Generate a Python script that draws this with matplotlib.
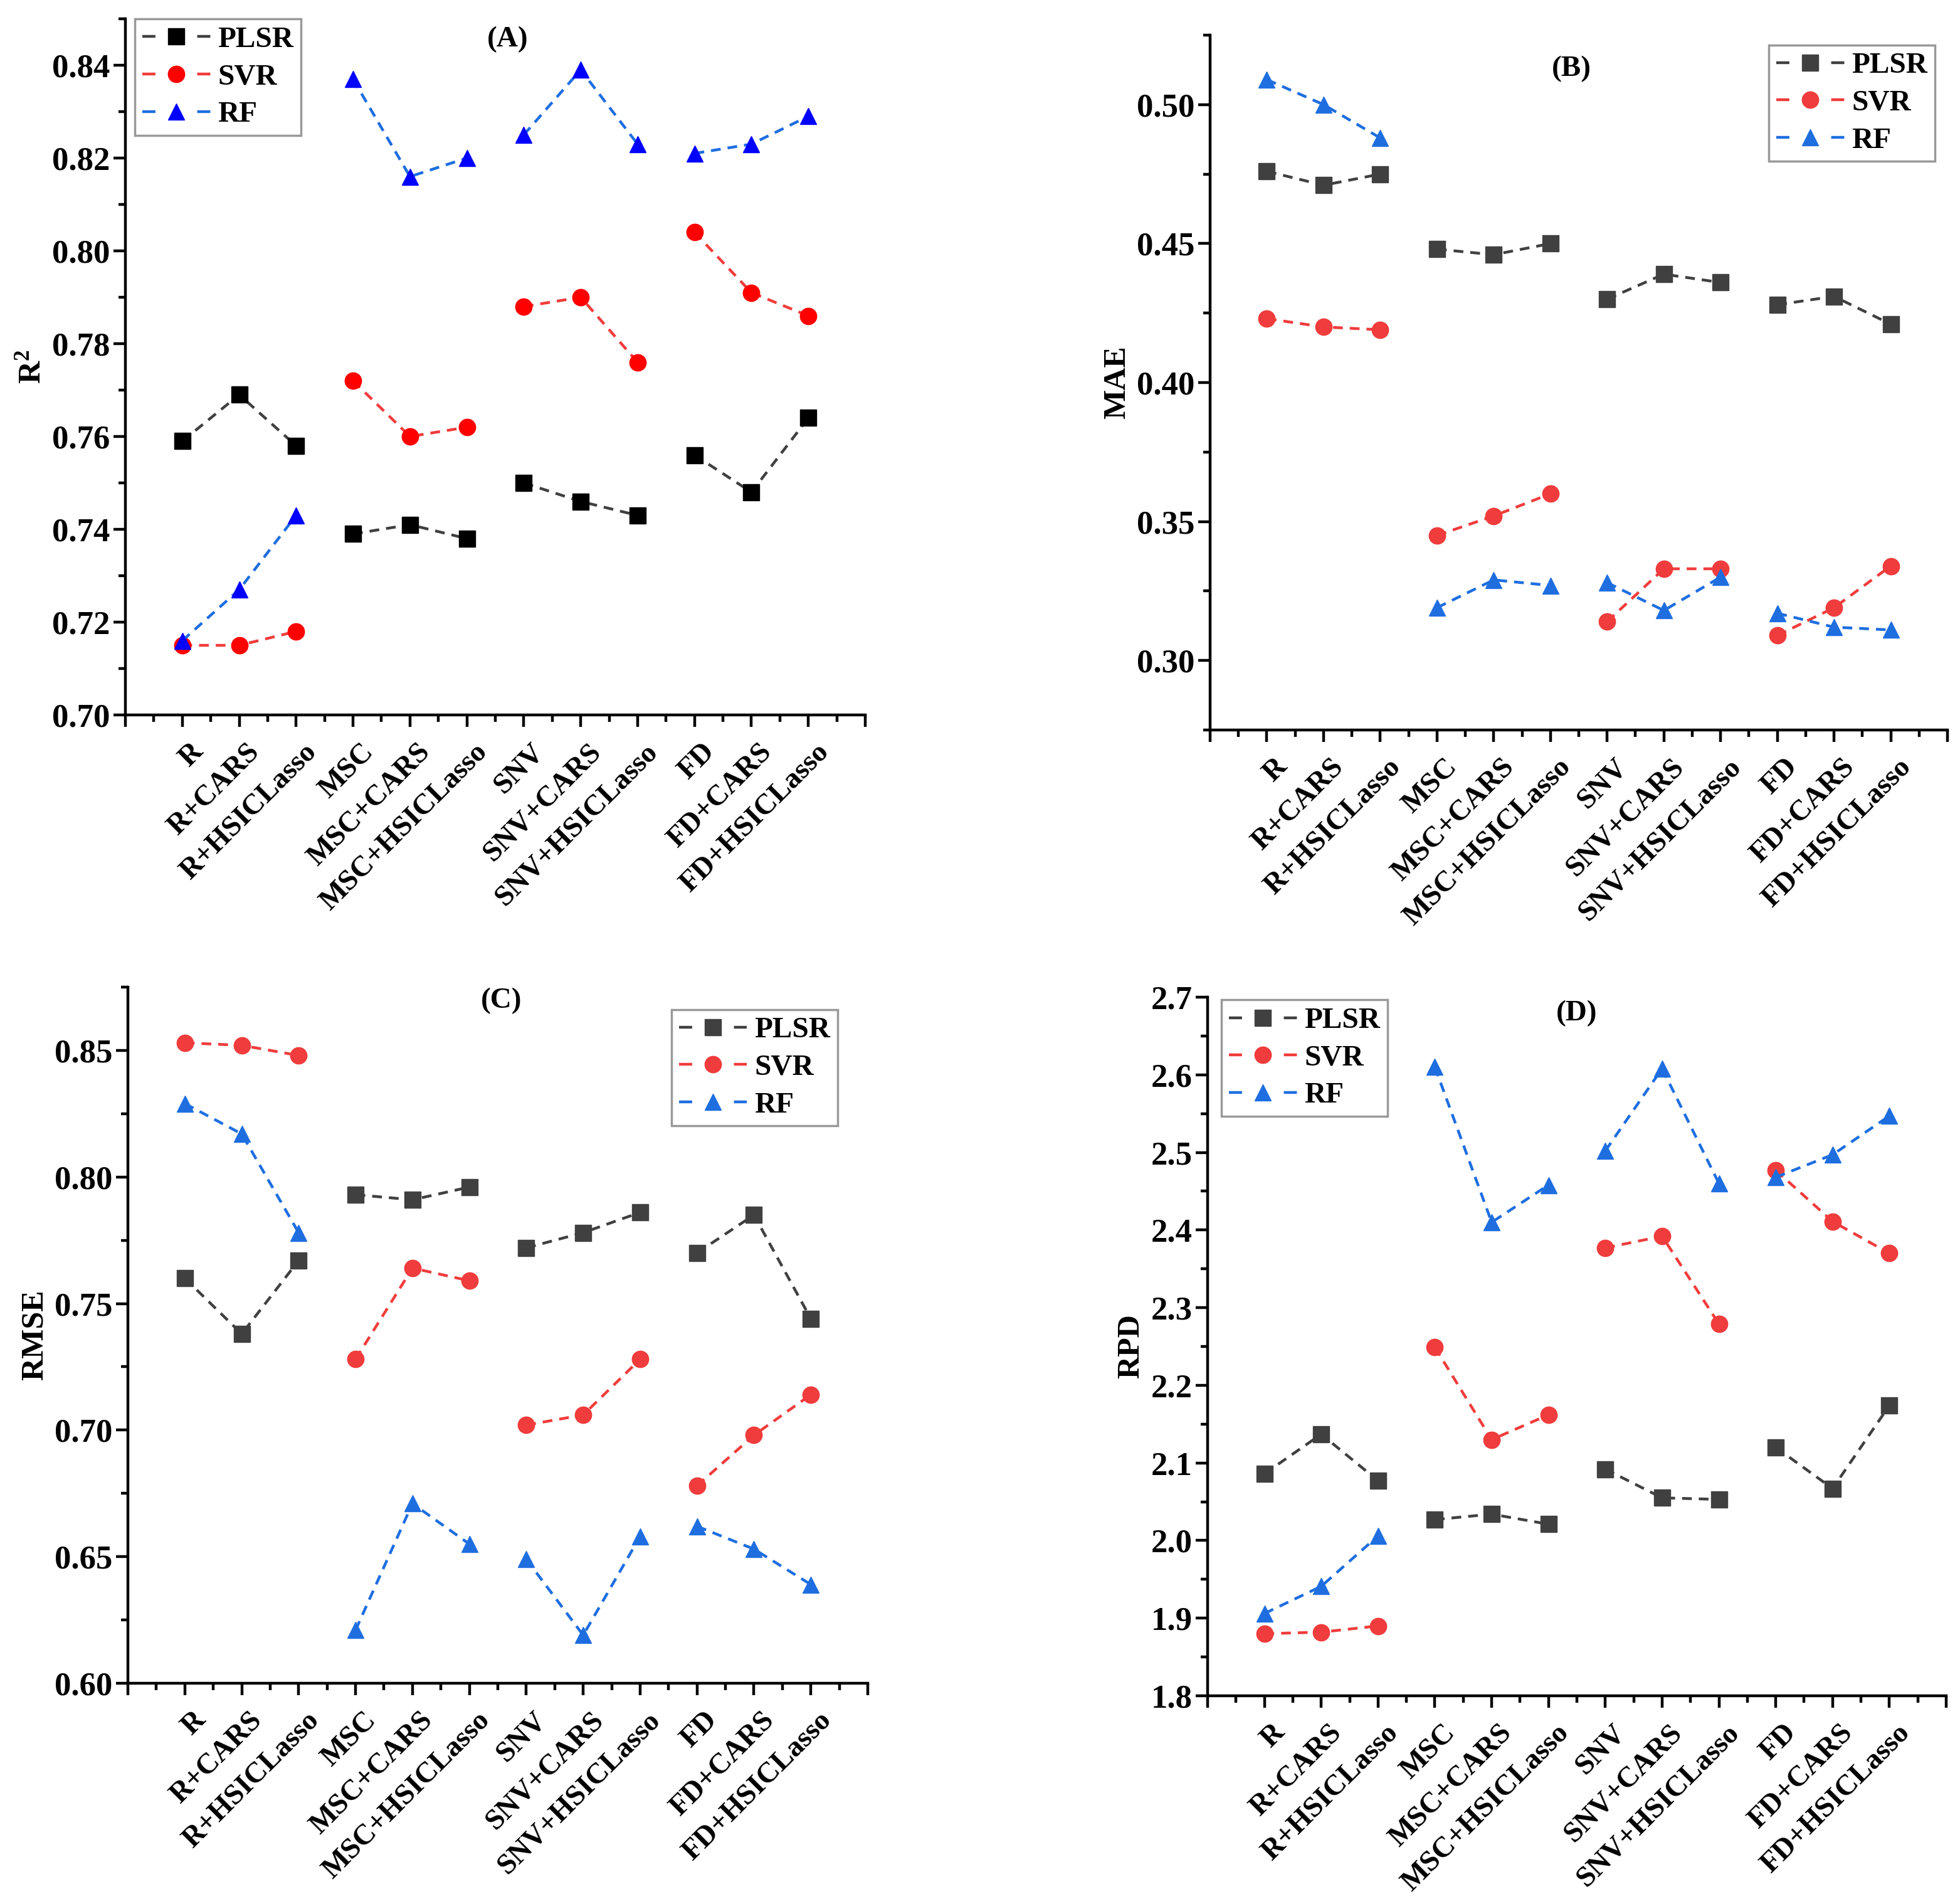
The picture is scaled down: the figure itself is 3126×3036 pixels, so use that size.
"""
Four-panel comparison of PLSR / SVR / RF across preprocessing + feature
selection combinations: R2, MAE, RMSE and RPD.
"""

import numpy as np
import matplotlib
matplotlib.use("Agg")
import matplotlib.pyplot as plt
from matplotlib.lines import Line2D
from matplotlib.transforms import ScaledTranslation
from matplotlib.ticker import MultipleLocator, FixedLocator, FormatStrFormatter

plt.rcParams["font.family"] = ["Liberation Serif", "DejaVu Serif"]
plt.rcParams["font.weight"] = "bold"
plt.rcParams["mathtext.fontset"] = "custom"
plt.rcParams["mathtext.rm"] = "Liberation Serif:bold"

categories = ["R", "R+CARS", "R+HSICLasso",
              "MSC", "MSC+CARS", "MSC+HSICLasso",
              "SNV", "SNV+CARS", "SNV+HSICLasso",
              "FD", "FD+CARS", "FD+HSICLasso"]
models = ["PLSR", "SVR", "RF"]

r2_plsr = [0.759, 0.769, 0.758, 0.739, 0.741, 0.738, 0.750, 0.746, 0.743, 0.756, 0.748, 0.764]
r2_svr  = [0.715, 0.715, 0.718, 0.772, 0.760, 0.762, 0.788, 0.790, 0.776, 0.804, 0.791, 0.786]
r2_rf   = [0.716, 0.727, 0.743, 0.837, 0.816, 0.820, 0.825, 0.839, 0.823, 0.821, 0.823, 0.829]

mae_plsr = [0.476, 0.471, 0.475, 0.448, 0.446, 0.450, 0.430, 0.439, 0.436, 0.428, 0.431, 0.421]
mae_svr  = [0.423, 0.420, 0.419, 0.345, 0.352, 0.360, 0.314, 0.333, 0.333, 0.309, 0.319, 0.334]
mae_rf   = [0.509, 0.500, 0.488, 0.319, 0.329, 0.327, 0.328, 0.318, 0.330, 0.317, 0.312, 0.311]

rmse_plsr = [0.760, 0.738, 0.767, 0.793, 0.791, 0.796, 0.772, 0.778, 0.786, 0.770, 0.785, 0.744]
rmse_svr  = [0.853, 0.852, 0.848, 0.728, 0.764, 0.759, 0.702, 0.706, 0.728, 0.678, 0.698, 0.714]
rmse_rf   = [0.829, 0.817, 0.778, 0.621, 0.671, 0.655, 0.649, 0.619, 0.658, 0.662, 0.653, 0.639]

rpd_plsr = [2.086, 2.137, 2.077, 2.027, 2.034, 2.021, 2.092, 2.055, 2.053, 2.120, 2.067, 2.174]
rpd_svr  = [1.880, 1.882, 1.890, 2.249, 2.130, 2.162, 2.377, 2.392, 2.279, 2.477, 2.411, 2.370]
rpd_rf   = [1.906, 1.941, 2.006, 2.610, 2.410, 2.458, 2.502, 2.608, 2.460, 2.468, 2.497, 2.547]

_LINE = ["#404040", "#F03C3C", "#1E6EE0"]
_FACE_A = ["#000000", "#FF0000", "#0000FF"]
_MARK = ["s", "o", "^"]
_LW = 3.2

W, H = 3126, 3036

fig = plt.figure(figsize=(W / 100, H / 100), dpi=100, facecolor="white")


def _panel(ax, series, faces, ylabel, letter, ylim, major, minor, fmt,
           title_xy, leg_loc, leg_anchor):
    x = np.arange(1, len(categories) + 1)
    for k, vals in enumerate(series):
        vals = np.asarray(vals)
        for g in range(4):
            sl = slice(3 * g, 3 * g + 3)
            ax.plot(x[sl], vals[sl], ls=(0, (3.5, 2.5)), lw=_LW, color=_LINE[k],
                    marker=_MARK[k], ms=19, mfc=faces[k], mec=faces[k], zorder=3)

    ax.set_xlim(0, 13)
    ax.set_ylim(*ylim)
    ax.xaxis.set_major_locator(FixedLocator(range(0, 14)))
    ax.xaxis.set_minor_locator(MultipleLocator(0.5))
    ax.yaxis.set_major_locator(MultipleLocator(major))
    ax.yaxis.set_minor_locator(MultipleLocator(minor))
    ax.yaxis.set_major_formatter(FormatStrFormatter(fmt))

    for s in ("top", "right"):
        ax.spines[s].set_visible(False)
    for s in ("left", "bottom"):
        ax.spines[s].set_linewidth(_LW)
    ax.tick_params(which="major", direction="out", length=14, width=_LW)
    ax.tick_params(which="minor", direction="out", length=8, width=_LW)
    ax.tick_params(axis="y", which="major", labelsize=38)
    ax.tick_params(axis="x", which="major", pad=24)
    for lab in ax.get_yticklabels():
        lab.set_fontweight("bold")

    # rotated category labels, nudged right like the original
    ax.set_xticklabels([""] + categories + [""], rotation=45, ha="right",
                       va="center", rotation_mode="anchor", fontsize=33.5,
                       fontweight="bold")
    shift = ScaledTranslation(0.26, 0, fig.dpi_scale_trans)
    for lab in ax.get_xticklabels():
        lab.set_transform(lab.get_transform() + shift)

    ax.set_ylabel(ylabel, fontsize=36, fontweight="bold", labelpad=6)
    ax.text(title_xy[0], title_xy[1], letter, transform=ax.transAxes,
            ha="center", va="center", fontsize=34, fontweight="bold")

    # legend handles: dash - marker - dash
    handles = [Line2D([], [], ls=(0, (4.7, 15.0)), lw=_LW, color=_LINE[k],
                      marker=_MARK[k], ms=19, mfc=faces[k], mec=faces[k])
               for k in range(3)]
    leg = ax.legend(handles, models, loc=leg_loc, bbox_to_anchor=leg_anchor,
                    borderaxespad=0, handlelength=2.3, handletextpad=0.25,
                    labelspacing=0.35, borderpad=0.25, fancybox=False,
                    framealpha=1, edgecolor="#999999",
                    prop={"weight": "bold", "size": 34})
    leg.get_frame().set_linewidth(2.5)


axA = fig.add_axes([200 / W, 1 - 1140 / H, 1180 / W, 1110 / H])
axB = fig.add_axes([1930 / W, 1 - 1164 / H, 1176 / W, 1108 / H])
axC = fig.add_axes([204 / W, 1 - 2684 / H, 1180 / W, 1110 / H])
axD = fig.add_axes([1926 / W, 1 - 2704 / H, 1178 / W, 1114 / H])

_panel(axA, [r2_plsr, r2_svr, r2_rf], _FACE_A, r"$\mathregular{R^2}$", "(A)",
       (0.70, 0.85), 0.02, 0.01, "%.2f", (0.517, 0.97), "upper left", (0.013, 1.0))
_panel(axB, [mae_plsr, mae_svr, mae_rf], _LINE, "MAE", "(B)",
       (0.275, 0.525), 0.05, 0.025, "%.2f", (0.49, 0.951), "upper right", (0.983, 0.986))
_panel(axC, [rmse_plsr, rmse_svr, rmse_rf], _LINE, "RMSE", "(C)",
       (0.60, 0.875), 0.05, 0.025, "%.2f", (0.505, 0.98), "upper right", (0.959, 0.968))
_panel(axD, [rpd_plsr, rpd_svr, rpd_rf], _LINE, "RPD", "(D)",
       (1.8, 2.7), 0.1, 0.05, "%.1f", (0.50, 0.977), "upper left", (0.019, 0.996))

fig.savefig("out.png", dpi=100, facecolor="white")
